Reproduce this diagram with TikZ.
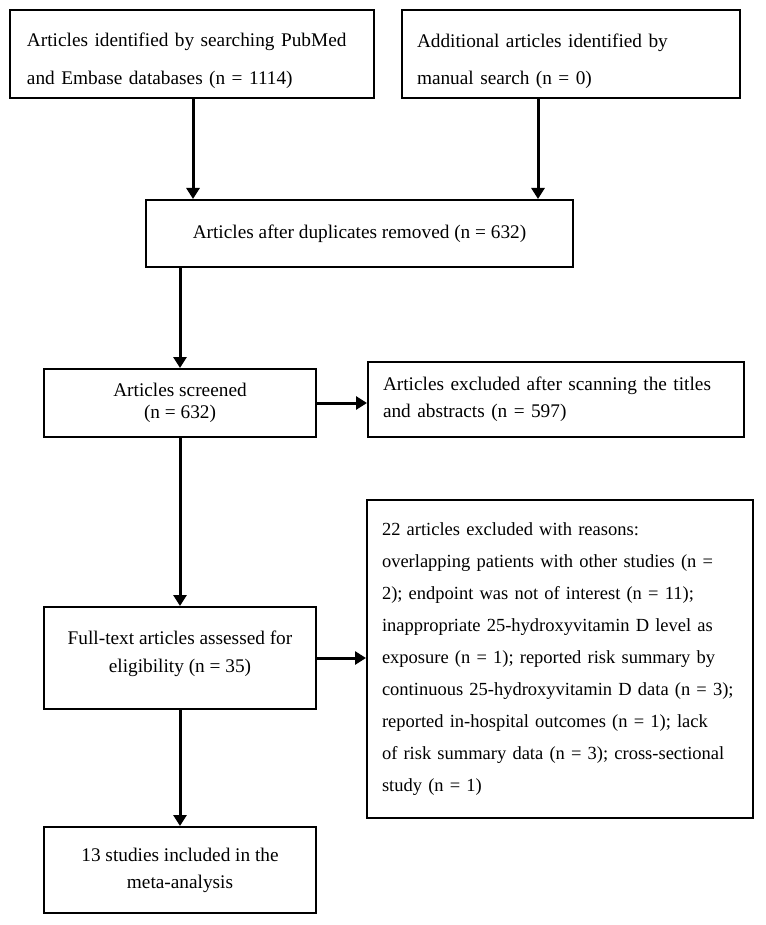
\documentclass[tikz,border=0pt]{standalone}
\usepackage{fontspec}
\setmainfont{Liberation Serif}
\usetikzlibrary{arrows.meta}

\tikzset{
  box/.style={draw, line width=2pt, inner sep=0pt},
  arr/.style={line width=3pt, -{Triangle[length=11pt,width=13pt]}}
}

\begin{document}
\begin{tikzpicture}[x=1pt,y=1pt,yscale=-1]
    \useasboundingbox (0,0) rectangle (765,925);
    % Search boxes
    \node[box, minimum width=364pt, minimum height=88pt, text width=330pt, align=left, font=\fontsize{19.3}{38}\selectfont] (search) at (192,54) {\rule{0pt}{28pt}Articles identified by searching PubMed\\and Embase databases (n = 1114)};
    \node[box, minimum width=338pt, minimum height=88pt, text width=308pt, align=left, font=\fontsize{19.3}{37}\selectfont] (manual) at (571,54) {\rule{0pt}{28pt}Additional articles identified by\\manual search (n = 0)};
    % Duplicates
    \node[box, minimum width=427pt, minimum height=67pt, align=center, font=\fontsize{19.3}{22}\selectfont] (dupl) at (359.5,233.5) {Articles after duplicates removed (n = 632)};
    % Screening
    \node[box, minimum width=272pt, minimum height=68pt, align=center, font=\fontsize{19.3}{22}\selectfont] (screen) at (180,403) {Articles screened\\(n = 632)};
    \node[box, minimum width=376pt, minimum height=75pt, text width=346pt, align=left, font=\fontsize{19.3}{27}\selectfont] (excl) at (556,399.5) {Articles excluded after scanning the titles\\and abstracts (n = 597)};
    % Eligibility
    \node[box, minimum width=272pt, minimum height=102pt, align=center, font=\fontsize{19.3}{28}\selectfont] (full) at (180,658) {Full-text articles assessed for\\eligibility (n = 35)\rule[-12pt]{0pt}{1pt}};
    \node[box, minimum width=386pt, minimum height=318pt, text width=356pt, align=left, font=\fontsize{18.5}{32}\selectfont] (reasons) at (560,659) {22 articles excluded with reasons:\\overlapping patients with other studies (n =\\2); endpoint was not of interest (n = 11);\\inappropriate 25-hydroxyvitamin D level as\\exposure (n = 1); reported risk summary by\\continuous 25-hydroxyvitamin D data (n = 3);\\reported in-hospital outcomes (n = 1); lack\\of risk summary data (n = 3); cross-sectional\\study (n = 1)};
    % Included
    \node[box, minimum width=272pt, minimum height=86pt, align=center, font=\fontsize{19.3}{27}\selectfont] (incl) at (180,870) {13 studies included in the\\meta-analysis};
    % Arrows
    \draw[arr] ([xshift=1pt]search.south) -- ([xshift=1pt]search.south |- dupl.north);
    \draw[arr] ([xshift=-33pt]manual.south) -- ([xshift=-33pt]manual.south |- dupl.north);
    \draw[arr] (dupl.south -| screen.north) -- (screen.north);
    \draw[arr] (screen.east) -- (screen.east -| excl.west);
    \draw[arr] (screen) -- (full);
    \draw[arr] (full.east) -- (full.east -| reasons.west);
    \draw[arr] (full) -- (incl);
\end{tikzpicture}
\end{document}
